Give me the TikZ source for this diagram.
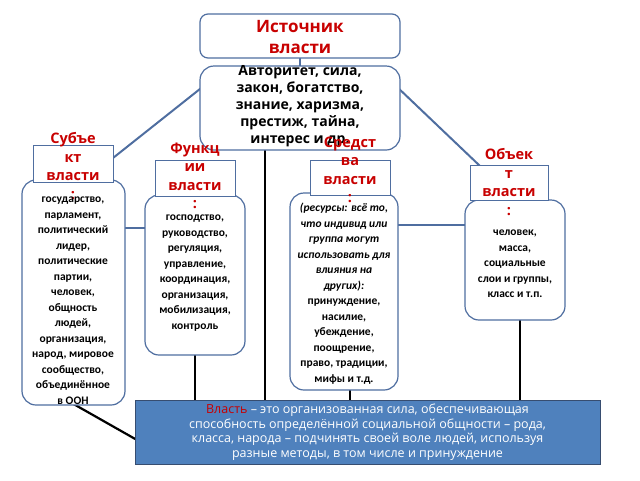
\documentclass[tikz,border=0pt]{standalone}
\usepackage{fontspec}
\setmainfont{Open Sans}
\newfontfamily\bodyfont{Carlito}
\usetikzlibrary{positioning}
\definecolor{edge}{RGB}{79,110,160}
\definecolor{boxblue}{RGB}{79,129,189}
\definecolor{title}{RGB}{200,0,0}
\tikzset{
  box/.style={draw=edge,line width=1.2pt,rounded corners=14pt,fill=white,inner sep=0pt},
  hbox/.style={draw=edge,line width=1pt,fill=white,inner sep=0pt},
  head/.style={text=title,font=\bfseries\fontsize{14.5}{18.5}\selectfont,align=center,inner sep=0pt},
  body/.style={font=\bodyfont\bfseries\fontsize{11.5}{15.5}\selectfont,align=center,inner sep=0pt},
  blueline/.style={draw=edge,line width=2pt},
  blackline/.style={draw=black,line width=2.2pt}
}
\begin{document}
\begin{tikzpicture}[x=1pt,y=-1pt]
  \useasboundingbox (0,0) rectangle (640,480);
  % links behind the boxes
  \coordinate (lk1) at (205,85);
  \coordinate (lk2) at (113,158);
  \coordinate (lk3) at (395,85);
  \coordinate (lk4) at (480,166);
  \draw[blueline] (lk1) -- (lk2);
  \draw[blueline] (lk3) -- (lk4);
  \draw[blueline] (300,55) -- (300,68);
  \draw[blueline] (122,228) -- (148,228);
  \draw[blueline] (395,225) -- (468,225);
  \draw[blackline] (265,148) -- (265,402);
  \draw[blackline] (195,352) -- (195,402);
  \draw[blackline] (350,388) -- (350,402);
  \draw[blackline] (520,318) -- (520,402);
  \draw[blackline] (70,402) -- (137,440);
  % top
  \node[box,rounded corners=8pt,minimum width=200pt,minimum height=44pt] (src) at (300,36) {};
  \node[head,font=\bfseries\fontsize{17}{21}\selectfont] (srct) at (300,37) {Источник\\власти};
  \node[box,minimum width=200pt,minimum height=84pt] (res) at (300,108) {};
  \node[font=\bfseries\fontsize{14}{17}\selectfont,align=center,inner sep=0pt] (rest) at (300,106)
    {Авторитет, сила,\\закон, богатство,\\знание, харизма,\\престиж, тайна,\\интерес и др.};
  % subject
  \node[box,minimum width=103pt,minimum height=225pt] (subj) at (73.5,292.5) {};
  \node[hbox,minimum width=80pt,minimum height=37pt] (subjh) at (73,163.5) {};
  \node[head] (subjt) at (73,166) {Субъе\\кт\\власти\\:};
  \node[body,anchor=north] (subjb) at (73,197)
    {государство,\\парламент,\\политический\\лидер,\\политические\\партии,\\человек,\\общность\\людей,\\организация,\\народ, мировое\\сообщество,\\объединённое\\в ООН};
  % functions
  \node[box,minimum width=100pt,minimum height=160pt] (func) at (195,275) {};
  \node[hbox,minimum width=80pt,minimum height=36pt] (funch) at (195,178) {};
  \node[head] (funct) at (195,176) {Функц\\ии\\власти\\:};
  \node[body,anchor=north] (funcb) at (195,215)
    {господство,\\руководство,\\регуляция,\\управление,\\координация,\\организация,\\мобилизация,\\контроль};
  % means
  \node[box,minimum width=108pt,minimum height=197pt] (mean) at (344,291.5) {};
  \node[hbox,minimum width=80pt,minimum height=35pt] (meanh) at (350,177.5) {};
  \node[head] (meant) at (350,170) {Средст\\ва\\власти\\:};
  \node[body,anchor=north] (meanb) at (344,203)
    {\itshape (ресурсы: всё то,\\\itshape что  индивид или\\\itshape группа могут\\\itshape использовать для\\\itshape влияния на\\\itshape других):\\принуждение,\\насилие,\\убеждение,\\поощрение,\\право, традиции,\\мифы  и т.д.};
  % object
  \node[box,minimum width=100pt,minimum height=120pt] (obj) at (515,260) {};
  \node[hbox,minimum width=78pt,minimum height=35pt] (objh) at (509,182.5) {};
  \node[head] (objt) at (509,182) {Объек\\т\\власти\\:};
  \node[body,anchor=north] (objb) at (515,230)
    {человек,\\масса,\\социальные\\слои и группы,\\класс и т.п.};
  % definition
  \node[draw=edge!70!black,line width=1pt,fill=boxblue,minimum width=465pt,minimum height=64pt,inner sep=0pt] (defn) at (367.5,432) {};
  \node[text=white,font=\fontsize{12.5}{14.5}\selectfont,align=center,inner sep=0pt] (defnt) at (367.5,432)
    {\textcolor{title}{Власть} – это организованная сила, обеспечивающая\\способность определённой социальной общности – рода,\\класса, народа – подчинять своей воле людей, используя\\разные методы, в том числе и принуждение};
\end{tikzpicture}
\end{document}
